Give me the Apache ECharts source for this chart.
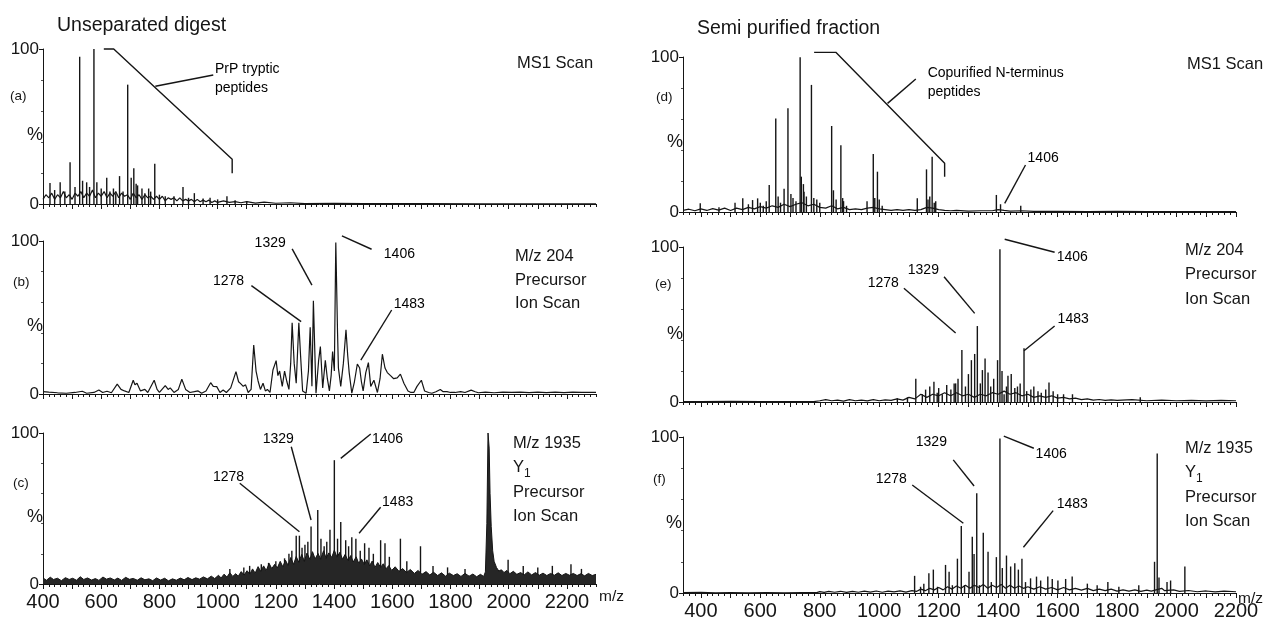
<!DOCTYPE html>
<html>
<head>
<meta charset="utf-8">
<script src="https://cdn.jsdelivr.net/npm/echarts@6.0.0/dist/echarts.min.js"></script>
<style>
  html, body { margin: 0; padding: 0; background: #fff; }
  #chart { width: 1265px; height: 624px; }
</style>
</head>
<body>
<div id="chart"></div>
<script>
// ---- axis ticks / labels ----
const xLabelValues = [400, 600, 800, 1000, 1200, 1400, 1600, 1800, 2000, 2200];
const xMajorTicks = [400, 500, 600, 700, 800, 900, 1000, 1100, 1200, 1300, 1400, 1500, 1600, 1700, 1800, 1900, 2000, 2100, 2200];

// ---- (a) unseparated digest, MS1 scan ----
const traceA = [[400,3],[410,6],[420,4],[430,7],[440,3],[450,6],[460,4],[470,8],[480,4],[490,6],[500,3],[510,7],[520,5],[530,8],[540,4],[550,7],[560,5],[570,9],[580,4],[590,7],[600,5],[610,8],[620,4],[630,7],[640,5],[650,8],[660,4],[670,7],[680,5],[690,6],[700,3],[710,7],[720,4],[730,6],[740,3],[750,6],[760,4],[770,5],[780,3],[790,5],[800,3],[810,5],[820,2],[830,4],[840,3],[850,4],[860,2],[870,4],[880,2],[890,3],[900,2],[910,3],[920,1.5],[930,3],[940,1.5],[950,2.5],[960,1.5],[970,2.5],[980,1],[990,2],[1000,1],[1020,2],[1040,1],[1060,1.5],[1080,0.8],[1100,1.5],[1130,0.6],[1160,1.2],[1200,0.5],[1250,0.8],[1300,0.3],[1400,0.5],[1500,0.2],[1700,0.3],[1900,0.1],[2300,0.1]];
const peaksA = [[424,13.5],[440,9],[459,14],[475,8],[493,27],[510,11],[526,95],[536,15],[550,14],[560,11],[575,100],[585,14],[600,10],[619,17],[630,8],[642,10],[650,7],[663,18],[675,8],[691,77],[703,17],[712,23],[720,13],[725,12],[740,10],[750,7],[763,10],[770,8],[784,26],[800,6],[820,5],[850,5],[881,11],[900,4],[920,7],[950,3.5],[974,4],[1000,3],[1032,5],[1060,2.5],[1100,2]];
const leadersA = [[[609,100],[643,100],[1050,28.8],[1050,19.8]], [[786,76],[985,83.2]]];
const notesA = [["PrP tryptic\npeptides", 991, 81]];

// ---- (b) unseparated digest, m/z 204 precursor ion scan ----
const traceB = [[400,1.5],[420,1.2],[450,0.8],[480,0.5],[510,1],[535,1.8],[550,0.5],[575,1],[592,2.6],[605,1],[620,1.8],[635,0.8],[655,6.5],[668,3],[680,2],[695,1],[710,9],[716,6],[723,7],[735,2],[750,3],[760,1],[782,9],[792,3],[800,1],[820,5.5],[830,3],[837,4],[850,1],[865,3],[877,9.6],[890,3],[905,1],[920,1.5],[933,2],[945,0.5],[960,2],[976,7.4],[985,5],[997,4.8],[1008,1],[1019,2.6],[1030,1],[1045,4],[1063,14.6],[1072,8],[1079,6.8],[1088,5],[1096,6],[1105,1],[1115,3],[1124,32],[1132,15],[1139,8.5],[1147,3],[1156,7],[1164,2],[1171,3],[1180,1],[1190,15.7],[1201,21.8],[1207,12],[1213,15],[1222,5],[1230,15],[1238,8],[1245,3],[1251,20],[1256,46.6],[1263,20],[1270,7],[1279,46.6],[1285,25],[1292,2],[1304,0.5],[1312,15],[1318,43.6],[1324,5],[1329,61],[1338,0.5],[1347,22],[1353,31],[1361,4],[1370,22],[1377,10],[1384,2],[1390,12],[1395,27.7],[1401,15],[1406,99],[1412,40],[1415,17],[1423,5],[1432,20],[1441,42],[1447,25],[1452,14],[1461,0.5],[1470,8],[1480,19.6],[1488,17],[1494,8],[1500,2],[1509,14],[1518,20.5],[1526,5],[1537,9],[1549,1],[1558,10],[1566,26],[1575,17],[1583,14],[1594,12],[1605,10],[1617,10.5],[1628,13],[1640,7],[1654,2],[1664,1],[1674,1],[1685,5],[1700,9],[1711,2],[1725,1],[1736,0.5],[1750,1.5],[1765,3],[1775,1.5],[1788,1.5],[1800,1],[1816,1],[1835,1.5],[1850,1],[1871,2.5],[1885,1.5],[1896,0.8],[1920,1.2],[1950,0.8],[1980,1.2],[2010,1],[2040,1.2],[2070,0.9],[2100,1.2],[2130,0.9],[2160,1.2],[2190,0.9],[2220,1.2],[2250,1],[2300,1]];
const leadersB = [[[1116,70.8],[1287,47.3]], [[1256,94.8],[1324,71.2]], [[1427,103.3],[1529,94.6]], [[1598,54.9],[1492,22.2]]];
const notesB = [["1278", 984, 73.9], ["1329", 1127, 98.7], ["1406", 1571, 91.5], ["1483", 1605, 58.8]];

// ---- (c) unseparated digest, m/z 1935 Y1 precursor ion scan ----
const bandC = [[400,4],[412,2.5],[425,4.5],[436,3],[450,3.8],[463,2.2],[477,4.2],[490,3],[502,3.8],[515,2.5],[528,4.8],[540,3],[553,4],[567,2.6],[580,3.6],[592,2.4],[606,4.6],[618,3.2],[631,4],[645,2.7],[657,3.9],[670,2.4],[684,4.4],[697,3.1],[710,3.7],[724,2.5],[737,4.1],[750,2.8],[764,3.4],[777,2.2],[790,4],[804,2.6],[818,3.8],[831,2.1],[845,3.4],[858,2.5],[872,3.9],[885,2.8],[898,4.3],[912,2.9],[925,4.1],[938,3.2],[951,4.7],[965,3.4],[978,5.2],[990,3.6],[1003,5.8],[1012,4],[1022,6.5],[1032,4.6],[1042,7.4],[1052,5],[1062,6.8],[1071,5.2],[1081,8.2],[1091,5.9],[1101,8.8],[1111,6.6],[1120,10],[1129,7.2],[1139,11.5],[1148,8.4],[1158,12],[1167,9],[1177,13.6],[1186,10.2],[1196,13],[1205,10.6],[1215,15],[1224,11.4],[1233,15.8],[1242,12.4],[1251,17.5],[1261,13],[1270,18.2],[1279,14.4],[1289,19.6],[1298,15],[1307,20.5],[1317,16.2],[1326,21.4],[1335,16.6],[1345,20.2],[1354,16.4],[1364,22],[1373,17],[1382,20.6],[1392,17.6],[1401,22.4],[1410,17.8],[1420,21],[1429,16.4],[1438,19.6],[1448,15.4],[1457,18.8],[1466,14.6],[1476,18],[1485,13.6],[1494,16.6],[1504,13],[1513,16],[1522,12],[1531,15.2],[1541,11],[1550,14.2],[1560,11],[1569,13.4],[1578,10],[1588,12.2],[1598,9],[1610,11.4],[1623,8.4],[1636,10.2],[1649,7.6],[1662,9.6],[1676,7],[1689,9],[1702,6.4],[1716,8.2],[1729,6],[1742,7.8],[1756,5.6],[1769,7.4],[1783,5.2],[1796,7.2],[1810,5.6],[1823,6.8],[1836,5],[1850,7],[1864,5.2],[1877,6.6],[1890,4.8],[1903,6.4],[1914,5],[1920,8],[1925,40],[1929,100],[1933,90],[1936,60],[1940,38],[1945,22],[1950,15],[1958,11],[1966,8.6],[1975,9.4],[1984,7.6],[1994,9],[2004,6.8],[2016,8.4],[2028,6.4],[2041,7.6],[2053,6],[2066,8],[2079,6],[2092,7.6],[2105,5.8],[2118,7.2],[2131,5.6],[2144,7],[2157,5.8],[2170,7.4],[2183,5.6],[2196,7],[2209,5.8],[2222,7],[2235,5.6],[2248,6.8],[2261,5.4],[2274,7],[2287,5.6],[2300,6.4]];
const peaksC = [[1042,10],[1090,11],[1110,12],[1150,13],[1175,14],[1200,15],[1230,17],[1245,20],[1255,22],[1270,32],[1281,32],[1290,24],[1300,26],[1310,28],[1321,38],[1344,49],[1355,30],[1366,25],[1375,28],[1386,36],[1401,82],[1412,30],[1423,41],[1440,29],[1450,25],[1461,31],[1475,30],[1490,22],[1505,27],[1520,24],[1535,20],[1560,29],[1575,27],[1590,18],[1628,30],[1650,15],[1697,25],[1740,12],[1790,11],[1850,10],[1998,16],[2050,12],[2100,11],[2150,12],[2214,13],[2250,10]];
const leadersC = [[[1076,66.7],[1281,34.6]], [[1253,90.9],[1321,42.4]], [[1526,99.3],[1423,83.2]], [[1560,50.8],[1486,33.6]]];
const notesC = [["1278", 984, 70.9], ["1329", 1155, 96], ["1406", 1530, 96], ["1483", 1565, 54.3]];

// ---- (d) semi purified fraction, MS1 scan ----
const traceD = [[340,1],[360,1.8],[380,0.8],[400,2],[420,1],[440,2.2],[460,1.2],[480,2.5],[500,1],[520,2.5],[540,1.5],[560,3],[580,2],[600,3.5],[620,2.5],[640,4],[660,3],[680,5],[700,3.5],[720,5],[740,6],[760,4],[780,5],[800,3],[820,2.5],[840,4],[860,2],[880,3],[900,1.5],[920,2],[940,1.5],[960,2.5],[980,3],[1000,2],[1020,1.5],[1040,1],[1060,1.5],[1080,1],[1100,1.5],[1120,1],[1140,1.5],[1160,3],[1180,2.5],[1200,1.5],[1220,1],[1240,0.8],[1260,1],[1300,0.6],[1340,0.8],[1380,0.8],[1400,1.5],[1420,1],[1440,0.6],[1480,0.8],[1520,0.4],[1600,0.5],[1700,0.3],[1800,0.4],[1900,0.2],[2000,0.3],[2100,0.2],[2200,0.2]];
const peaksD = [[398,5.6],[461,3],[515,6],[541,8.8],[560,5],[574,7.7],[591,8.8],[600,6],[610,4],[620,7],[630,17.4],[652,60.4],[660,10],[668,6],[680,15],[693,66.9],[703,11.6],[710,9],[720,7],[734,99.8],[738,22.8],[745,18],[747,13],[755,10],[772,82],[780,9],[790,8],[800,6],[840,55.5],[846,14],[855,8],[871,43],[877,9],[880,7],[890,4],[959,7],[980,37.4],[985,9],[994,26],[1000,8],[1010,4],[1128,8.8],[1159,27.5],[1164,8],[1170,10],[1178,35.7],[1185,6],[1190,7],[1394,11],[1408,5],[1476,4]];
const leadersD = [[[781,103],[854,103],[1220,31.4],[1220,22.8]], [[1028,70.1],[1123,85.8]], [[1492,30.3],[1422,5.6]]];
const notesD = [["Copurified N-terminus\npeptides", 1163, 83.2], ["1406", 1499, 34.8]];

// ---- (e) semi purified fraction, m/z 204 precursor ion scan ----
const traceE = [[340,0.3],[400,0.2],[500,0.4],[600,0.2],[700,0.3],[780,0.2],[800,0.8],[820,1.5],[840,0.8],[860,1.2],[880,0.6],[900,1.5],[920,0.8],[940,1.2],[960,0.7],[980,1.5],[1000,0.8],[1020,1.4],[1040,1],[1060,2],[1080,1.2],[1100,3],[1120,2],[1140,5],[1160,3],[1180,5],[1200,4],[1220,6],[1240,4],[1260,6],[1280,4],[1300,5],[1320,3],[1340,5],[1360,4],[1380,6],[1400,5],[1420,7],[1440,5],[1460,6],[1480,4],[1500,5],[1520,3],[1540,4],[1560,3],[1580,4],[1600,2.5],[1620,3],[1640,2],[1660,2.5],[1680,1.5],[1700,2],[1720,1.2],[1740,1.6],[1760,1],[1780,1.4],[1800,1],[1850,1.5],[1900,0.8],[1950,1.2],[2000,0.8],[2050,1],[2100,0.7],[2150,1],[2200,0.8]];
const peaksE = [[1061,2.4],[1095,3],[1123,15],[1145,5],[1156,8],[1170,10],[1184,13],[1195,6],[1200,9],[1212,5],[1227,11],[1241,8],[1252,12],[1257,12],[1265,15],[1278,33.5],[1290,10],[1300,18],[1310,27],[1321,31],[1330,49],[1340,12],[1347,20.6],[1356,28],[1366,19],[1375,10],[1385,15],[1398,27],[1406,98.5],[1413,20],[1420,5],[1428,10],[1433,17],[1444,18],[1456,9],[1465,10],[1474,12],[1487,34.6],[1496,7],[1510,8],[1520,10],[1534,7],[1545,6],[1560,8],[1571,12.6],[1585,7],[1600,5],[1620,5],[1650,5],[1878,3]];
const leadersE = [[[1083,73.4],[1257,44.5]], [[1218,80.8],[1321,57.2]], [[1422,105],[1590,96.6]], [[1590,49],[1487,33.1]]];
const notesE = [["1278", 961, 76.8], ["1329", 1096, 85.2], ["1406", 1597, 93.5], ["1483", 1600, 53.5]];

// ---- (f) semi purified fraction, m/z 1935 Y1 precursor ion scan ----
const traceF = [[340,0.2],[400,0.4],[450,0.1],[500,0.3],[560,0.1],[620,0.3],[680,0.1],[740,0.3],[790,0.2],[800,0.9],[815,0.4],[830,1],[850,0.5],[870,1.1],[890,0.4],[910,1],[930,0.5],[950,1.2],[970,0.6],[990,1.3],[1010,0.5],[1030,1.2],[1050,0.7],[1070,1.4],[1090,0.6],[1110,1.5],[1125,1],[1140,2.5],[1155,1.5],[1170,3],[1185,2],[1200,3.5],[1215,2],[1230,4],[1245,2.5],[1260,4.5],[1275,3],[1290,5],[1305,3],[1320,5],[1335,3.5],[1350,5.5],[1365,3],[1380,5],[1395,3.5],[1410,5.5],[1425,3],[1440,5],[1455,3],[1470,4.5],[1485,3],[1500,4],[1520,2.5],[1540,4],[1560,2.5],[1580,3.5],[1600,2],[1620,3.5],[1640,2],[1660,3],[1680,1.8],[1700,3],[1720,1.5],[1740,2.5],[1760,1.5],[1780,2.5],[1800,1.2],[1820,2],[1840,1.2],[1860,2],[1880,1],[1900,1.8],[1915,1.2],[1950,3],[1960,1.5],[1990,2],[2010,1],[2040,1.6],[2070,0.8],[2100,1.3],[2130,0.7],[2160,1.2],[2200,0.8]];
const peaksF = [[1119,11],[1139,4],[1150,6],[1167,12.6],[1182,15],[1196,4],[1223,18],[1235,13.7],[1246,5],[1263,22],[1276,43],[1287,5],[1302,13.7],[1313,36],[1319,25],[1328,64],[1337,5],[1350,38.7],[1366,26.5],[1377,7],[1394,23],[1406,99],[1414,16],[1428,24],[1442,17],[1456,19],[1468,15],[1480,22],[1492,7],[1509,9.4],[1529,10.5],[1543,8],[1567,10.5],[1582,9],[1601,8],[1627,9],[1649,10.5],[1700,6],[1733,5],[1769,7],[1806,4],[1873,5],[1926,20],[1935,89.5],[1941,10],[1968,7],[1980,8],[2028,17]];
const leadersF = [[[1111,69.2],[1283,44.7]], [[1249,85.3],[1319,68.6]], [[1419,100.6],[1520,92.8]], [[1585,52.8],[1485,29.3]]];
const notesF = [["1278", 988, 73.1], ["1329", 1123, 96.8], ["1406", 1526, 89.1], ["1483", 1597, 57]];

// ---- text around the panels: [text, left, top, fontSize, lineHeight] ----
const captions = [
  ["Unseparated digest", 57, 14, 19.5],
  ["Semi purified fraction", 697, 17, 19.5],
  ["MS1 Scan", 517, 53, 16.5],
  ["MS1 Scan", 1187, 54, 16.5],
  ["M/z 204\nPrecursor\nIon Scan", 515, 245, 16.5, 23.5],
  ["M/z 204\nPrecursor\nIon Scan", 1185, 238, 16.5, 24.5],
  ["M/z 1935\nY{sub|1}\nPrecursor\nIon Scan", 513, 431, 16.5, 24.5],
  ["M/z 1935\nY{sub|1}\nPrecursor\nIon Scan", 1185, 436, 16.5, 24.5],
  ["(a)", 10, 88, 13.5], ["(b)", 13, 274, 13.5], ["(c)", 13, 475, 13.5],
  ["(d)", 656, 89, 13.5], ["(e)", 655, 276, 13.5], ["(f)", 653, 471, 13.5],
  ["%", 27, 124, 18], ["%", 27, 315, 18], ["%", 27, 506, 18],
  ["%", 667, 131, 18], ["%", 667, 323, 18], ["%", 666, 512, 18],
  ["m/z", 599, 587, 15.5], ["m/z", 1238, 589, 15.5]
];

const FONT = "'Liberation Sans', Arial, sans-serif";
const INK = "#151515";

const panels = [
  { grid: { left: 43, top: 49, width: 553, height: 155 }, min: 400, max: 2300, trace: traceA, peaks: peaksA, leaders: leadersA, notes: notesA },
  { grid: { left: 43, top: 241, width: 553, height: 153 }, min: 400, max: 2300, trace: traceB, leaders: leadersB, notes: notesB },
  { grid: { left: 43, top: 433, width: 553, height: 151 }, min: 400, max: 2300, band: bandC, peaks: peaksC, leaders: leadersC, notes: notesC, labels: true },
  { grid: { left: 683, top: 57, width: 553, height: 155 }, min: 340, max: 2200, trace: traceD, peaks: peaksD, leaders: leadersD, notes: notesD },
  { grid: { left: 683, top: 247, width: 553, height: 155 }, min: 340, max: 2200, trace: traceE, peaks: peaksE, leaders: leadersE, notes: notesE },
  { grid: { left: 683, top: 437, width: 553, height: 156 }, min: 340, max: 2200, trace: traceF, peaks: peaksF, leaders: leadersF, notes: notesF, labels: true }
];

function buildOption() {
  const option = {
    animation: false,
    backgroundColor: "#fff",
    textStyle: { fontFamily: FONT },
    title: [],
    grid: [],
    xAxis: [],
    yAxis: [],
    series: []
  };

  captions.forEach(([text, left, top, size, lh]) => {
    option.title.push({
      text, left, top, padding: 0,
      textStyle: {
        fontSize: size, fontWeight: "normal", color: INK, fontFamily: FONT,
        lineHeight: lh || Math.round(size * 1.2),
        rich: { sub: { fontSize: 12, verticalAlign: "bottom", padding: [10, 0, 0, 0], color: INK, fontFamily: FONT } }
      }
    });
  });

  panels.forEach((p, i) => {
    option.grid.push(p.grid);
    // minor ticks every 20 plus the labels
    option.xAxis.push({
      type: "value", gridIndex: i, position: "bottom",
      min: p.min, max: p.max, interval: 20,
      axisLine: { show: true, onZero: false, lineStyle: { color: INK, width: 1 } },
      axisTick: { show: true, length: 3, lineStyle: { color: INK, width: 1 } },
      axisLabel: {
        show: !!p.labels, customValues: xLabelValues, margin: 8,
        fontSize: 20, color: INK, fontFamily: FONT,
        formatter: (v) => String(v)
      },
      splitLine: { show: false }
    });
    // longer ticks every 100
    option.xAxis.push({
      type: "value", gridIndex: i, position: "bottom",
      min: p.min, max: p.max, interval: 20,
      axisLine: { show: false },
      axisTick: { show: true, length: 5, customValues: xMajorTicks, lineStyle: { color: INK, width: 1 } },
      axisLabel: { show: false },
      splitLine: { show: false }
    });
    option.yAxis.push({
      type: "value", gridIndex: i, min: 0, max: 100, interval: 100,
      axisLine: { show: true, lineStyle: { color: INK, width: 1 } },
      axisTick: { show: true, length: 4, lineStyle: { color: INK } },
      minorTick: { show: true, splitNumber: 5, length: 2, lineStyle: { color: "#555" } },
      axisLabel: { fontSize: 17, color: INK, margin: 4, fontFamily: FONT },
      splitLine: { show: false }
    });

    const xi = 2 * i;
    if (p.band) {
      option.series.push({
        type: "line", xAxisIndex: xi, yAxisIndex: i, data: p.band,
        symbol: "none", silent: true,
        lineStyle: { color: INK, width: 1 },
        areaStyle: { color: "#262626", opacity: 1 }
      });
    }
    if (p.trace) {
      option.series.push({
        type: "line", xAxisIndex: xi, yAxisIndex: i, data: p.trace,
        symbol: "none", silent: true,
        lineStyle: { color: INK, width: 1.2 }
      });
    }
    if (p.peaks) {
      option.series.push({
        type: "bar", xAxisIndex: xi, yAxisIndex: i, data: p.peaks,
        barWidth: 1.4, silent: true,
        itemStyle: { color: INK }
      });
    }
    p.leaders.forEach((pts) => {
      option.series.push({
        type: "line", xAxisIndex: xi, yAxisIndex: i, data: pts,
        symbol: "none", silent: true, clip: false,
        lineStyle: { color: INK, width: 1.4 }
      });
    });
    option.series.push({
      type: "scatter", xAxisIndex: xi, yAxisIndex: i, silent: true, clip: false,
      symbol: "circle", symbolSize: 0, itemStyle: { color: INK, opacity: 1 },
      data: p.notes.map(([name, x, y]) => ({ name, value: [x, y] })),
      label: {
        show: true, position: "right", distance: 0, formatter: "{b}",
        color: "#000", opacity: 1, fontSize: 14, lineHeight: 19, fontFamily: FONT
      }
    });
  });
  return option;
}

const chart = echarts.init(document.getElementById("chart"));
chart.setOption(buildOption());
window.addEventListener("resize", () => chart.resize());
</script>
</body>
</html>
